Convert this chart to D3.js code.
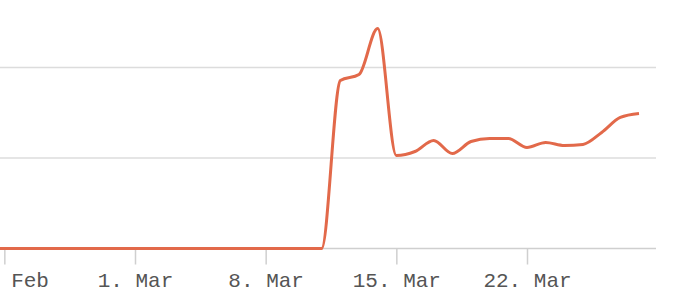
<!DOCTYPE html>
<html>
<head>
<meta charset="utf-8">
<script src="https://cdn.jsdelivr.net/npm/d3@7"></script>
<style>
  body { margin: 0; background: #fff; }
  svg { display: block; }
</style>
</head>
<body>
<div id="chart"></div>
<script>
// daily series (units unknown, no y labels shown)
var dates = ["2015-02-21","2015-02-22","2015-02-23","2015-02-24","2015-02-25","2015-02-26","2015-02-27","2015-02-28",
  "2015-03-01","2015-03-02","2015-03-03","2015-03-04","2015-03-05","2015-03-06","2015-03-07","2015-03-08",
  "2015-03-09","2015-03-10","2015-03-11","2015-03-12","2015-03-13","2015-03-14","2015-03-15","2015-03-16",
  "2015-03-17","2015-03-18","2015-03-19","2015-03-20","2015-03-21","2015-03-22","2015-03-23","2015-03-24",
  "2015-03-25","2015-03-26","2015-03-27","2015-03-28"];
var values = [0,0,0,0,0,0,0,0,
  0,0,0,0,0,0,0,0,
  0,0,0,92.8,96.1,121.5,51.4,53.6,
  59.7,52.5,59.1,60.8,60.8,55.8,58.6,56.9,
  57.5,64.1,72.4,74.6];
var tickDates = ["2015-02-22","2015-03-01","2015-03-08","2015-03-15","2015-03-22"];
var gridValues = [0, 50, 100];

var width = 696, height = 294;
var parse = d3.timeParse("%Y-%m-%d");

var data = dates.map((d, i) => ({date: parse(d), value: values[i]}));

var x = d3.scaleTime()
  .domain([parse("2015-03-01"), parse("2015-03-22")])
  .range([135, 527]);

var y = d3.scaleLinear()
  .domain([0, 100])
  .range([248.5, 67.5]);

var svg = d3.select("#chart").append("svg")
  .attr("width", width)
  .attr("height", height);

//grid lines
svg.append("g").selectAll("line")
  .data(gridValues.filter(v => v > 0)).enter()
  .append("line")
    .attr("x1", 0).attr("x2", 656)
    .attr("y1", d => y(d)).attr("y2", d => y(d))
    .attr("stroke", "#dcdcdc")
    .attr("stroke-width", 1.5);

//x axis
var xAxis = d3.axisBottom(x)
  .tickValues(tickDates.map(parse))
  .tickSize(16)
  .tickPadding(8)
  .tickFormat(d3.timeFormat("%-d. %b"));

var gx = svg.append("g")
  .attr("transform", "translate(0," + y(0) + ")")
  .call(xAxis);

gx.select(".domain").remove();
gx.append("line")
  .attr("x1", 0).attr("x2", 656)
  .attr("stroke", "#cfcfcf")
  .attr("stroke-width", 1.5);
gx.selectAll(".tick line")
  .attr("stroke", "#cfcfcf")
  .attr("stroke-width", 1.5);
gx.selectAll(".tick text")
  .attr("fill", "#555")
  .attr("font-family", "'Liberation Mono', 'DejaVu Sans Mono', monospace")
  .attr("font-size", 21);

//series line
var line = d3.line()
  .x(d => x(d.date))
  .y(d => y(d.value))
  .curve(d3.curveMonotoneX);

svg.append("path")
  .datum(data)
  .attr("d", line)
  .attr("fill", "none")
  .attr("stroke", "#e2694a")
  .attr("stroke-width", 3)
  .attr("stroke-linejoin", "round");
</script>
</body>
</html>
